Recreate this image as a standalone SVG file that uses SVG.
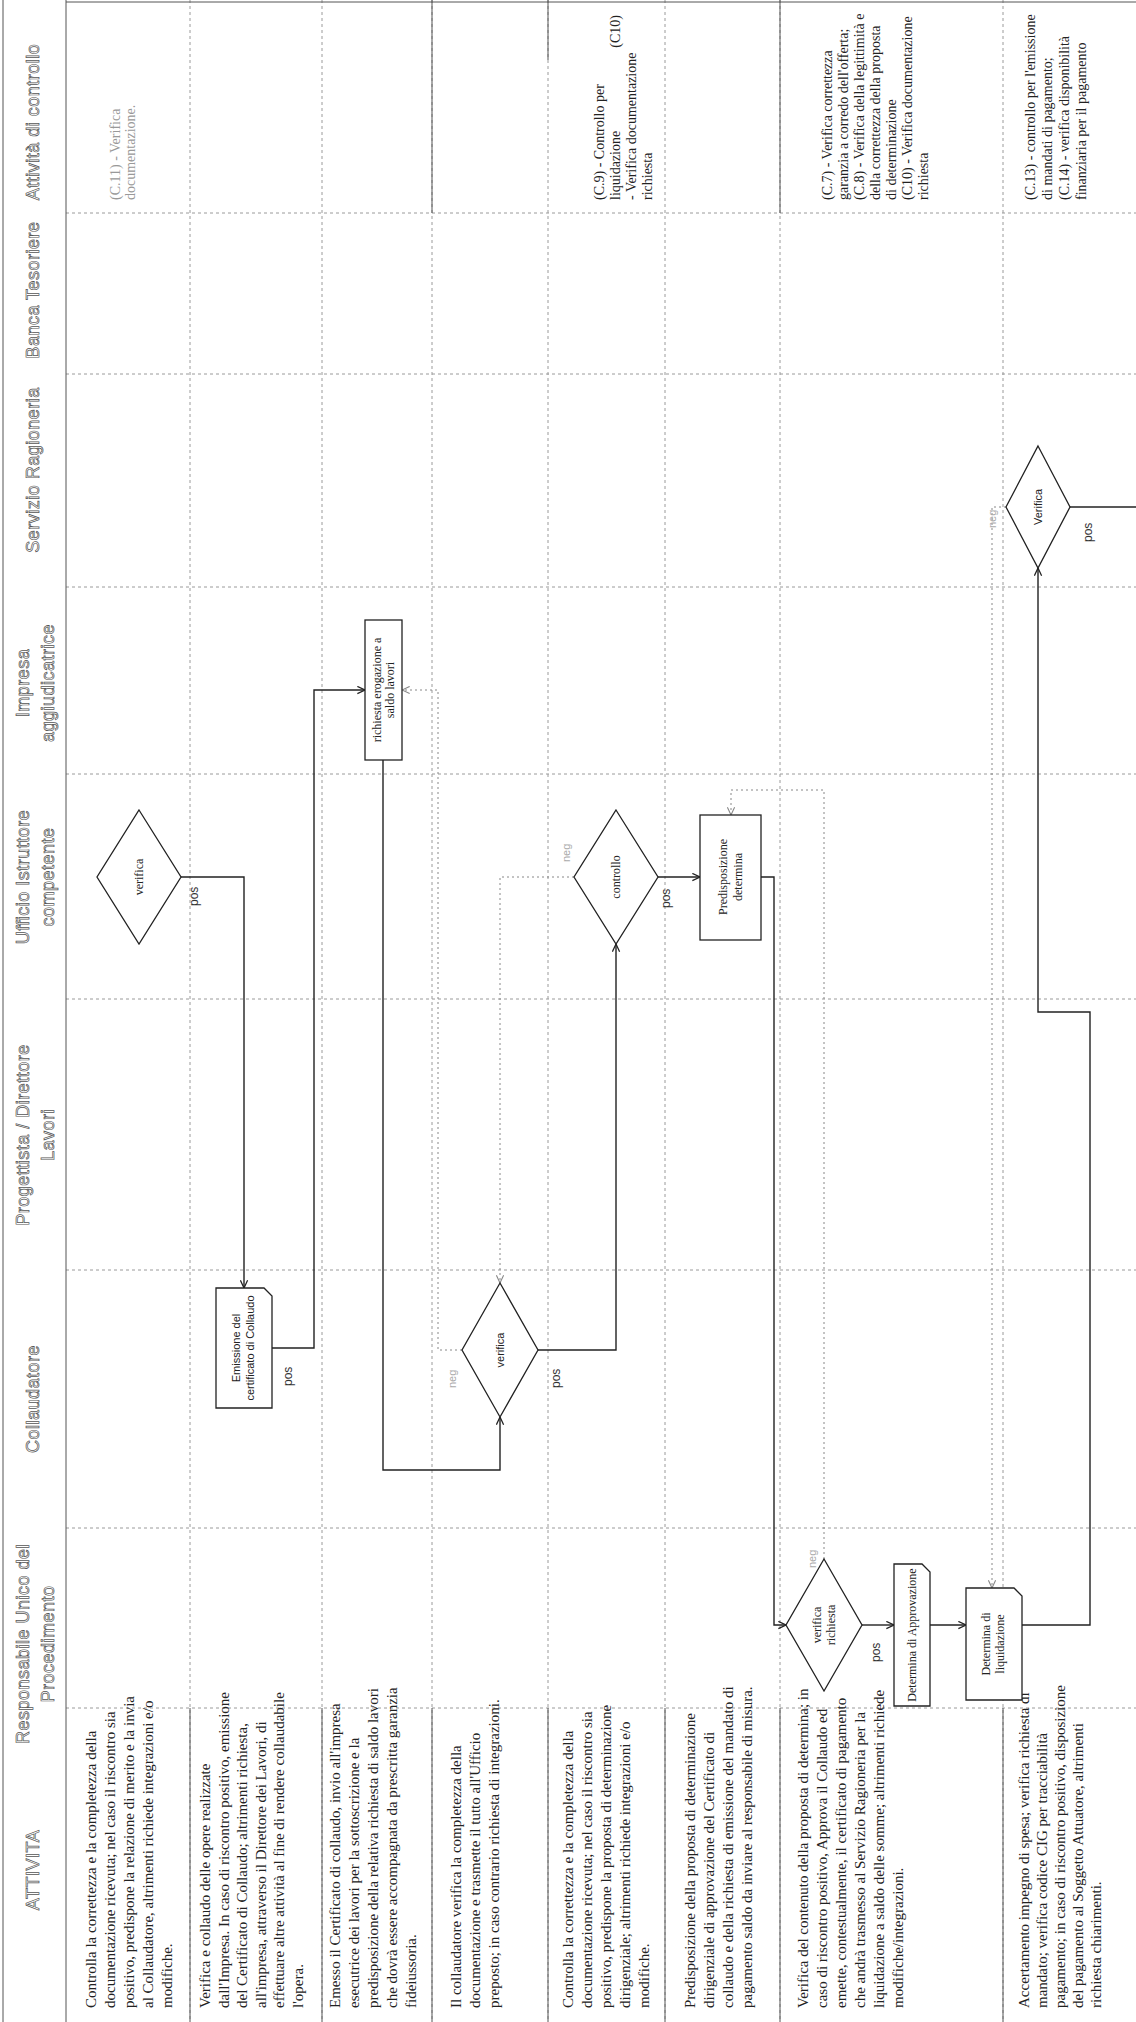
<svg xmlns="http://www.w3.org/2000/svg" width="1136" height="2022" viewBox="0 0 1136 2022">
<defs>
<marker id="a" viewBox="0 0 10 10" refX="9.5" refY="5" markerWidth="9" markerHeight="9" markerUnits="userSpaceOnUse" orient="auto"><path d="M1,1 L9.5,5 L1,9" fill="none" stroke="#222" stroke-width="1.4"/></marker>
<marker id="an" viewBox="0 0 10 10" refX="9.5" refY="5" markerWidth="9" markerHeight="9" markerUnits="userSpaceOnUse" orient="auto"><path d="M1,1 L9.5,5 L1,9" fill="none" stroke="#888" stroke-width="1.2"/></marker>
</defs>
<style>
.grid{stroke:#9a9a9a;stroke-width:1;stroke-dasharray:3 3;fill:none}
.solid{stroke:#555;stroke-width:1;fill:none}
.conn{stroke:#222;stroke-width:1.4;fill:none}
.neg{stroke:#888;stroke-width:1;stroke-dasharray:2 3;fill:none}
.node{fill:#fff;stroke:#222;stroke-width:1.3}
.t{font-family:"Liberation Serif",serif;font-size:15px;fill:#222}
.c{font-family:"Liberation Serif",serif;font-size:14px;fill:#222}
.cf{font-family:"Liberation Serif",serif;font-size:14px;fill:#999}
.h{font-family:"Liberation Sans",sans-serif;font-size:18px;letter-spacing:0.5px;fill:#fff;stroke:#555;stroke-width:0.7}
.ns{font-family:"Liberation Serif",serif;font-size:12px;fill:#222}
.nn{font-family:"Liberation Sans Narrow","Liberation Sans",sans-serif;font-size:11px;fill:#222}
.lbl{font-family:"Liberation Sans",sans-serif;font-size:12px;fill:#333}
.lbln{font-family:"Liberation Sans",sans-serif;font-size:11px;fill:#aaa}
</style>
<rect x="0" y="0" width="1136" height="2022" fill="#fff"/>

<g id="grid">
<path class="grid" d="M66,213H1136 M66,374H1136 M66,587H1136 M66,774H1136 M66,999H1136 M66,1270H1136 M66,1528H1136 M66,1708H1136"/>
<path class="grid" d="M190,0V2022 M322,0V2022 M432,0V2022 M548,0V2022 M665,0V2022 M780,0V2022 M1003,0V2022"/>
<path class="solid" d="M66,0V2022 M66,2H1136 M3,0V2022"/>
<path class="solid" d="M190,1708V2022 M322,1708V2022 M432,1708V2022 M548,1708V2022 M665,1708V2022 M780,1708V2022 M1003,1708V2022 M432,0V213 M780,0V213 M548,0V60"/>
</g>

<g id="headers">
<text class="h" text-anchor="middle" transform="translate(39,122) rotate(-90)">Attività di controllo</text>
<text class="h" text-anchor="middle" transform="translate(39,290) rotate(-90)">Banca Tesoriere</text>
<text class="h" text-anchor="middle" transform="translate(39,470) rotate(-90)">Servizio Ragioneria</text>
<text class="h" text-anchor="middle" transform="translate(29,683) rotate(-90)"><tspan x="0" y="0">Impresa</tspan><tspan x="0" dy="25">aggiudicatrice</tspan></text>
<text class="h" text-anchor="middle" transform="translate(29,877) rotate(-90)"><tspan x="0" y="0">Ufficio Istruttore</tspan><tspan x="0" dy="25">competente</tspan></text>
<text class="h" text-anchor="middle" transform="translate(29,1135) rotate(-90)"><tspan x="0" y="0">Progettista / Direttore</tspan><tspan x="0" dy="25">Lavori</tspan></text>
<text class="h" text-anchor="middle" transform="translate(39,1399) rotate(-90)">Collaudatore</text>
<text class="h" text-anchor="middle" transform="translate(29,1644) rotate(-90)"><tspan x="0" y="0">Responsabile Unico del</tspan><tspan x="0" dy="25">Procedimento</tspan></text>
<text class="h" text-anchor="middle" transform="translate(39,1870) rotate(-90)">ATTIVITA</text>
</g>

<g id="attivita">
<text class="t" transform="translate(96,2008) rotate(-90)"><tspan x="0" y="0">Controlla la correttezza e la completezza della</tspan><tspan x="0" dy="19">documentazione ricevuta; nel caso il riscontro sia</tspan><tspan x="0" dy="19">positivo, predispone la relazione di merito e la invia</tspan><tspan x="0" dy="19">al Collaudatore, altrimenti richiede integrazioni e/o</tspan><tspan x="0" dy="19">modifiche.</tspan></text>
<text class="t" transform="translate(210,2008) rotate(-90)"><tspan x="0" y="0">Verifica e collaudo delle opere realizzate</tspan><tspan x="0" dy="18.5">dall'Impresa. In caso di riscontro positivo, emissione</tspan><tspan x="0" dy="18.5">del Certificato di Collaudo; altrimenti richiesta,</tspan><tspan x="0" dy="18.5">all'impresa, attraverso il Direttore dei Lavori, di</tspan><tspan x="0" dy="18.5">effettuare altre attività al fine di rendere collaudabile</tspan><tspan x="0" dy="18.5">l'opera.</tspan></text>
<text class="t" transform="translate(340,2008) rotate(-90)"><tspan x="0" y="0">Emesso il Certificato di collaudo, invio all'impresa</tspan><tspan x="0" dy="19">esecutrice dei lavori per la sottoscrizione e la</tspan><tspan x="0" dy="19">predisposizione della relativa richiesta di saldo lavori</tspan><tspan x="0" dy="19">che dovrà essere accompagnata da prescritta garanzia</tspan><tspan x="0" dy="19">fideiussoria.</tspan></text>
<text class="t" transform="translate(461,2008) rotate(-90)"><tspan x="0" y="0">Il collaudatore verifica la completezza della</tspan><tspan x="0" dy="19">documentazione e trasmette il tutto all'Ufficio</tspan><tspan x="0" dy="19">preposto; in caso contrario richiesta di integrazioni.</tspan></text>
<text class="t" transform="translate(573,2008) rotate(-90)"><tspan x="0" y="0">Controlla la correttezza e la completezza della</tspan><tspan x="0" dy="19">documentazione ricevuta; nel caso il riscontro sia</tspan><tspan x="0" dy="19">positivo, predispone la proposta di determinazione</tspan><tspan x="0" dy="19">dirigenziale; altrimenti richiede integrazioni e/o</tspan><tspan x="0" dy="19">modifiche.</tspan></text>
<text class="t" transform="translate(695,2008) rotate(-90)"><tspan x="0" y="0">Predisposizione  della proposta di  determinazione</tspan><tspan x="0" dy="19">dirigenziale di approvazione del Certificato di</tspan><tspan x="0" dy="19">collaudo e della richiesta di emissione del mandato di</tspan><tspan x="0" dy="19">pagamento saldo da inviare al responsabile di misura.</tspan></text>
<text class="t" transform="translate(808,2008) rotate(-90)"><tspan x="0" y="0">Verifica del contenuto della proposta di determina; in</tspan><tspan x="0" dy="19">caso di riscontro positivo, Approva il Collaudo ed</tspan><tspan x="0" dy="19">emette, contestualmente, il certificato di pagamento</tspan><tspan x="0" dy="19">che andrà trasmesso  al Servizio Ragioneria per la</tspan><tspan x="0" dy="19">liquidazione a saldo delle somme; altrimenti richiede</tspan><tspan x="0" dy="19">modifiche/integrazioni.</tspan></text>
<text class="t" transform="translate(1029,2008) rotate(-90)"><tspan x="0" y="0">Accertamento  impegno di spesa; verifica richiesta di</tspan><tspan x="0" dy="18">mandato; verifica codice CIG per tracciabilità</tspan><tspan x="0" dy="18">pagamento; in caso di riscontro positivo, disposizione</tspan><tspan x="0" dy="18">del pagamento al Soggetto Attuatore, altrimenti</tspan><tspan x="0" dy="18">richiesta chiarimenti.</tspan></text>
</g>

<g id="controlli">
<text class="cf" transform="translate(120,200) rotate(-90)"><tspan x="0" y="0">(C.11) - Verifica</tspan><tspan x="0" dy="15">documentazione.</tspan></text>
<text class="c" transform="translate(604,200) rotate(-90)"><tspan x="0" y="0">(C.9) - Controllo per</tspan><tspan x="0" dy="16">liquidazione</tspan><tspan x="0" dy="16">- Verifica documentazione</tspan><tspan x="0" dy="16">richiesta</tspan></text>
<text class="c" text-anchor="end" transform="translate(620,200) rotate(-90)" x="185" y="0">(C10)</text>
<text class="c" transform="translate(832,200) rotate(-90)"><tspan x="0" y="0">(C.7) - Verifica  correttezza</tspan><tspan x="0" dy="16">garanzia a corredo dell'offerta;</tspan><tspan x="0" dy="16">(C.8) - Verifica della legittimità e</tspan><tspan x="0" dy="16">della correttezza della proposta</tspan><tspan x="0" dy="16">di determinazione</tspan><tspan x="0" dy="16">(C10) - Verifica documentazione</tspan><tspan x="0" dy="16">richiesta</tspan></text>
<text class="c" transform="translate(1035,200) rotate(-90)"><tspan x="0" y="0">(C.13) - controllo per l'emissione</tspan><tspan x="0" dy="17">di mandati di pagamento;</tspan><tspan x="0" dy="17">(C.14) - verifica disponibilità</tspan><tspan x="0" dy="17">finanziaria per il pagamento</tspan></text>
</g>

<g id="connectors">
<path class="conn" d="M181,877 H244 V1288" marker-end="url(#a)"/>
<path class="conn" d="M272,1348 H314 V690 H365" marker-end="url(#a)"/>
<path class="conn" d="M383,760 V1470 H500 V1417" marker-end="url(#a)"/>
<path class="conn" d="M538,1350 H616 V944" marker-end="url(#a)"/>
<path class="conn" d="M658,877 H700" marker-end="url(#a)"/>
<path class="conn" d="M761,877 H774 V1625 H786" marker-end="url(#a)"/>
<path class="conn" d="M862,1625 H894" marker-end="url(#a)"/>
<path class="conn" d="M930,1625 H966" marker-end="url(#a)"/>
<path class="conn" d="M1022,1625 H1090 V1012 H1038 V568" marker-end="url(#a)"/>
<path class="conn" d="M1070,507 H1136"/>
<path class="neg" d="M462,1350 H438 V690 H402" marker-end="url(#an)"/>
<path class="neg" d="M574,877 H500 V1283" marker-end="url(#an)"/>
<path class="neg" d="M824,1559 V790 H731 V815" marker-end="url(#an)"/>
<path class="neg" d="M1006,507 H992 V1588" marker-end="url(#an)"/>
<text class="lbl" transform="translate(198,906) rotate(-90)">pos</text>
<text class="lbl" transform="translate(292,1386) rotate(-90)">pos</text>
<text class="lbl" transform="translate(560,1388) rotate(-90)">pos</text>
<text class="lbln" transform="translate(456,1388) rotate(-90)">neg</text>
<text class="lbl" transform="translate(670,908) rotate(-90)">pos</text>
<text class="lbln" transform="translate(570,862) rotate(-90)">neg</text>
<text class="lbl" transform="translate(880,1662) rotate(-90)">pos</text>
<text class="lbln" transform="translate(816,1568) rotate(-90)">neg</text>
<text class="lbl" transform="translate(1092,542) rotate(-90)">pos</text>
<text class="lbln" transform="translate(996,528) rotate(-90)">neg</text>
</g>

<g id="n-verifica-ufficio">
<polygon class="node" points="139,810 181,877 139,944 97,877"/>
<text class="ns" text-anchor="middle" transform="translate(143,877) rotate(-90)">verifica</text>
</g>
<g id="n-emissione">
<path class="node" d="M216,1288 H264 L272,1296 V1408 H216 Z"/>
<text class="nn" text-anchor="middle" transform="translate(240,1348) rotate(-90)"><tspan x="0" y="0">Emissione del</tspan><tspan x="0" dy="14">certificato di Collaudo</tspan></text>
</g>
<g id="n-richiesta">
<rect class="node" x="365" y="620" width="37" height="140"/>
<text class="ns" text-anchor="middle" font-size="11" transform="translate(381,690) rotate(-90)"><tspan x="0" y="0">richiesta erogazione a</tspan><tspan x="0" dy="13">saldo lavori</tspan></text>
</g>
<g id="n-verifica-collaudatore">
<polygon class="node" points="500,1283 538,1350 500,1417 462,1350"/>
<text class="nn" text-anchor="middle" transform="translate(504,1350) rotate(-90)">verifica</text>
</g>
<g id="n-controllo">
<polygon class="node" points="616,810 658,877 616,944 574,877"/>
<text class="ns" text-anchor="middle" transform="translate(620,877) rotate(-90)">controllo</text>
</g>
<g id="n-predisposizione">
<rect class="node" x="700" y="815" width="61" height="125"/>
<text class="ns" text-anchor="middle" transform="translate(727,877) rotate(-90)"><tspan x="0" y="0">Predisposizione</tspan><tspan x="0" dy="15">determina</tspan></text>
</g>
<g id="n-verifica-richiesta">
<polygon class="node" points="824,1559 862,1625 824,1691 786,1625"/>
<text class="ns" text-anchor="middle" transform="translate(821,1625) rotate(-90)"><tspan x="0" y="0">verifica</tspan><tspan x="0" dy="14">richiesta</tspan></text>
</g>
<g id="n-determina-approvazione">
<path class="node" d="M894,1564 H922 L930,1572 V1706 H894 Z"/>
<text class="ns" text-anchor="middle" font-size="10.5" transform="translate(916,1635) rotate(-90)">Determina di Approvazione</text>
</g>
<g id="n-determina-liquidazione">
<path class="node" d="M966,1588 H1014 L1022,1596 V1700 H966 Z"/>
<text class="ns" text-anchor="middle" font-size="11" transform="translate(990,1644) rotate(-90)"><tspan x="0" y="0">Determina di</tspan><tspan x="0" dy="14">liquidazione</tspan></text>
</g>
<g id="n-verifica-ragioneria">
<polygon class="node" points="1038,446 1070,507 1038,568 1006,507"/>
<text class="nn" text-anchor="middle" transform="translate(1042,507) rotate(-90)">Verifica</text>
</g>
</svg>
